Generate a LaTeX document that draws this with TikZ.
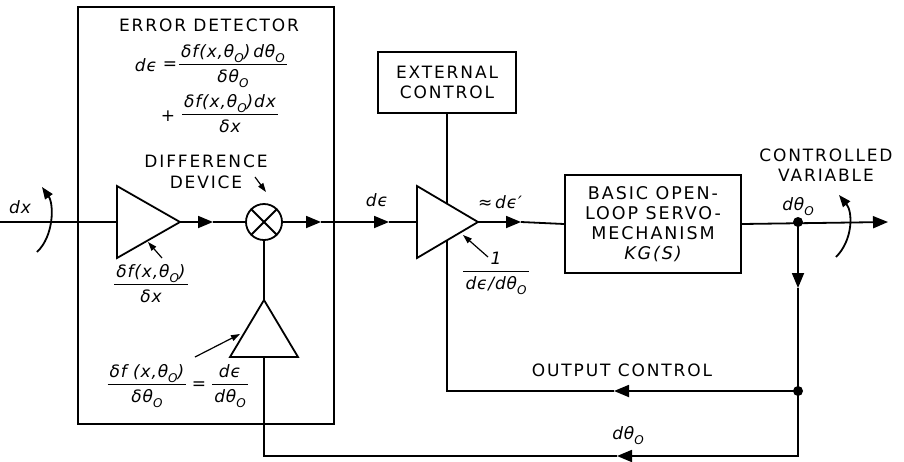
\documentclass[tikz,border=0pt]{standalone}
\usepackage{fontspec}
\setmainfont{DejaVu Sans}
\newfontfamily\capf{DejaVu Sans}[LetterSpace=11]
\newfontfamily\mathf{DejaVu Sans}[LetterSpace=5]
\usetikzlibrary{arrows.meta}
\newcommand\sO{\raisebox{-0.3em}{\fontsize{12}{12}\selectfont O}}
\newcommand\fr[2]{\begin{tabular}{@{\hspace{2pt}}c@{\hspace{2pt}}}#1\\[0pt]\hline\rule{0pt}{17pt}#2\end{tabular}}
\setlength\arrayrulewidth{1.4pt}
\begin{document}
\begin{tikzpicture}[x=1pt,y=-1pt,
  ln/.style={line width=1.8pt},
  blk/.style={draw, line width=1.8pt, fill=white},
  capt/.style={font=\capf\fontsize{17}{20.5}\selectfont, align=center, inner sep=0pt},
  mth/.style={font=\mathf\itshape\fontsize{17}{20}\selectfont, inner sep=0pt},
  endarr/.style={-{Triangle[length=15pt,width=12pt]}},
  ptr/.style={line width=1.2pt,-{Triangle[length=9pt,width=6pt]}},
  dotn/.style={circle, fill, inner sep=0pt, minimum size=10pt},
]
\useasboundingbox (0,0) rectangle (904,461);
% ---------- coordinates
\coordinate (IN) at (0,222);
\coordinate (T1in) at (117,222);
\coordinate (T1out) at (180,222);
\coordinate (T2in) at (417,222);
\coordinate (T2out) at (478,222);
\coordinate (T3top) at (264,300);
\coordinate (T3bot) at (264,357);
\coordinate (J) at (798,222);
\coordinate (OUT) at (888,222);
\coordinate (OC) at (798,391);
\coordinate (OCc) at (447,391);
\coordinate (BR) at (798,456);
\coordinate (BL) at (264,456);
\coordinate (a1) at (213,222);
\coordinate (a2) at (321,222);
\coordinate (a3) at (389,222);
\coordinate (a4) at (521,222);
\coordinate (a5) at (798,288);
\coordinate (a6) at (614,391);
\coordinate (a7) at (617,456);
% ---------- boxes
\node[draw, line width=1.8pt, minimum width=256pt, minimum height=417pt, anchor=north west, inner sep=0pt] (ED) at (77,6) {};
\node[draw, line width=1.8pt, minimum width=138pt, minimum height=61pt, inner sep=0pt, capt] (EXT) at (447,82.5) {EXTERNAL\\CONTROL};
\node[draw, line width=1.8pt, minimum width=176pt, minimum height=98pt, inner sep=0pt, capt, font=\capf\fontsize{17.5}{20}\selectfont] (BB) at (653,224) {BASIC OPEN-\\LOOP SERVO-\\MECHANISM\\{\itshape KG(S)}};
\node[draw, circle, minimum size=36pt, inner sep=0pt, line width=1.8pt, fill=white] (C) at (264,222) {};
% ---------- connectors
\draw[ln] (IN) -- (T1in);
\draw[ln, endarr] (T1out) -- (a1);
\draw[ln] (a1) -- (C.west);
\draw[ln, endarr] (C.east) -- (a2);
\draw[ln, endarr] (a2) -- (a3);
\draw[ln] (a3) -- (T2in);
\draw[ln, endarr] (T2out) -- (a4);
\draw[ln] (a4) -- (BB.west);
\draw[ln, endarr] (BB.east) -- (OUT);
\draw[ln, endarr] (J) -- (a5);
\draw[ln] (a5) -- (OC);
\draw[ln, endarr] (OC) -- (a6);
\draw[ln] (a6) -- (OCc) -- (EXT.south -| OCc);
\draw[ln, endarr] (OC) -- (BR) -- (a7);
\draw[ln] (a7) -- (BL) -- (T3bot);
\draw[ln] (C.south) -- (T3top);
% ---------- triangles
\draw[blk] (117,186) -- (T1out) -- (117,258) -- cycle;
\draw[blk] (417,186) -- (T2out) -- (417,258) -- cycle;
\draw[blk] (230,357) -- (T3top) -- (298,357) -- cycle;
\draw[ln] (C.north west) -- (C.south east);
\draw[ln] (C.north east) -- (C.south west);
\node[dotn] (Jd) at (J) {};
\node[dotn] (OCd) at (OC) {};
% ---------- rotation arcs
\coordinate (A1s) at (37,252); \coordinate (A1e) at (42,187);
\draw[ln, -{Triangle[length=12pt,width=9pt]}] (A1s) .. controls (54,236) and (54,204) .. (A1e);
\coordinate (A2s) at (836,257); \coordinate (A2e) at (839,195);
\draw[ln, -{Triangle[length=12pt,width=9pt]}] (A2s) .. controls (853,240) and (853,212) .. (A2e);
% ---------- labels
\node[capt] (edt) at (209,25) {ERROR DETECTOR};
\node[mth] (de1) at (146,65) {dϵ};
\node[mth, font=\mathf\fontsize{17}{20}\selectfont] (eq1) at (170,66) {=};
\node[mth] (f1) at (233,66) {\fr{δf(x,θ\sO)\,dθ\sO}{δθ\sO}};
\node[mth, font=\mathf\fontsize{17}{20}\selectfont] (pl) at (168,116) {+};
\node[mth] (f2) at (230,116) {\fr{δf(x,θ\sO)dx}{δx}};
\node[capt] (dd) at (206,172) {DIFFERENCE\\DEVICE};
\coordinate (ddp) at (255,177); \coordinate (ddt) at (266,192);
\draw[ptr] (ddp) -- (ddt);
\node[mth] (dxl) at (20,207) {dx};
\node[mth] (f3) at (151,286) {\fr{δf(x,θ\sO)}{δx}};
\coordinate (f3p) at (162,258); \coordinate (f3t) at (148,242);
\draw[ptr] (f3p) -- (f3t);
\node[mth] (f4) at (147,386) {\fr{δf (x,θ\sO)}{δθ\sO}};
\node[mth, font=\mathf\fontsize{17}{20}\selectfont] (eq2) at (199,386) {=};
\node[mth] (f5) at (230,386) {\fr{dϵ}{dθ\sO}};
\coordinate (f4p) at (195,357); \coordinate (f4t) at (240,334);
\draw[ptr] (f4p) -- (f4t);
\node[mth] (del) at (377,200) {dϵ};
\node[mth] (dep) at (500,202) {≈\,dϵ′};
\node[mth] (f6) at (496,273) {\fr{1}{dϵ/dθ\sO}};
\coordinate (f6p) at (488,257); \coordinate (f6t) at (463,235);
\draw[ptr] (f6p) -- (f6t);
\node[capt] (cv) at (826,165) {CONTROLLED\\VARIABLE};
\node[mth] (dtj) at (798,207) {dθ\sO};
\node[capt] (ocl) at (622,370) {OUTPUT CONTROL};
\node[mth] (dtb) at (628,436) {dθ\sO};
\end{tikzpicture}
\end{document}
